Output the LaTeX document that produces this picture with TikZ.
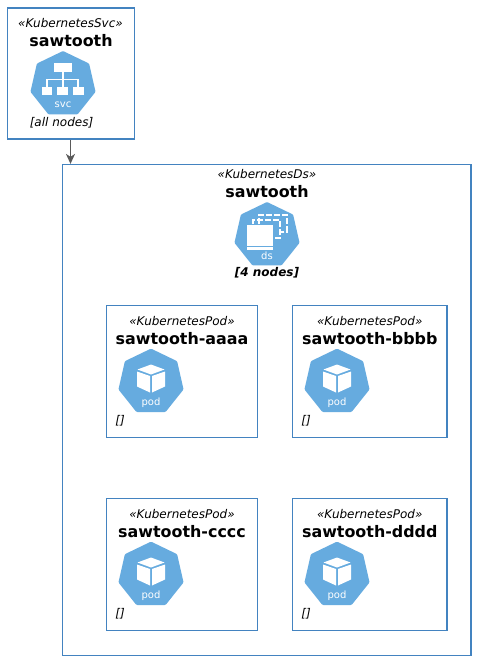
\documentclass[tikz,border=0pt]{standalone}
\usepackage{fontspec}
\setmainfont{DejaVu Sans}
\usepackage{xcolor}
\usetikzlibrary{positioning,shapes.geometric,arrows.meta,calc}
\definecolor{boxblue}{HTML}{4383C0}
\definecolor{iconblue}{HTML}{66ABDF}
\definecolor{arrowgrey}{HTML}{5A5A5A}

\tikzset{
  svcglyph/.pic={
    \fill[white] (-9,-21.5) rectangle (9,-12.5);
    \draw[white,line width=1.5pt] (0,-12.5) -- (0,-5) (-16,3) -- (-16,-5) -- (15,-5) -- (15,3) (0,-5) -- (0,3);
    \fill[white] (-21,3) rectangle (-11,10.5);
    \fill[white] (-6,3) rectangle (5,10.5);
    \fill[white] (10,3) rectangle (20.5,10.5);
  },
  dsglyph/.pic={
    \draw[white,line width=1.8pt,dash pattern=on 6pt off 2pt] (-7.7,-11) -- (-7.7,-20.5) -- (19.7,-20.5) -- (19.7,-3.7) -- (13.5,-3.7);
    \draw[white,line width=1.8pt,dash pattern=on 6pt off 2pt] (-13.7,-11.5) -- (-13.7,-15.5) -- (13,-15.5) -- (13,2.6) -- (7.5,2.6);
    \fill[white] (-20,-10.4) rectangle (6,10.6);
    \fill[white] (-20,11.8) rectangle (6,14.4);
  },
  podglyph/.pic={
    \fill[white] (0,-17.5) -- (13.5,-12.5) -- (0,-7.5) -- (-13.5,-12.5) -- cycle;
    \fill[white] (-14,-10.5) -- (-1,-6) -- (-1,10.5) -- (-14,4.5) -- cycle;
    \fill[white] (14,-10.5) -- (1,-6) -- (1,10.5) -- (14,4.5) -- cycle;
  },
}

\begin{document}
\begin{tikzpicture}[
  x=1pt, y=-1pt, >={Stealth[inset=3pt,length=10pt,width=9pt]},
  every node/.style={inner sep=0pt},
  card/.style={rectangle, draw=boxblue, line width=1.2pt, fill=white},
  kicon/.style={regular polygon, regular polygon sides=7, fill=iconblue, minimum size=66.8pt, rounded corners=1pt},
  stereo/.style={font=\fontsize{12}{14}\selectfont\itshape},
  title/.style={font=\fontsize{15.9}{18}\selectfont\bfseries},
  note/.style={font=\fontsize{12}{14}\selectfont\itshape},
  icontxt/.style={text=white, font=\fontsize{10}{12}\selectfont},
]
\useasboundingbox (0,0) rectangle (476,660);

% service box
\node[card, minimum width=127pt, minimum height=131pt] (svc) at (71,73.5) {};
\node[stereo] (svcst) at (70.5,23.5) {«KubernetesSvc»};
\node[title] (svcname) at (71,40.5) {sawtooth};
\node[kicon] (svcicon) at (63,84.4) {};
\pic at (svcicon.center) {svcglyph};
\node[icontxt] (svctxt) at (63,105) {svc};
\node[note] (svcnote) at (61.5,122.5) {[all nodes]};

% daemonset box
\node[card, minimum width=408.5pt, minimum height=491pt] (ds) at (266.75,410) {};
\node[stereo] (dsst) at (267,174) {«KubernetesDs»};
\node[title] (dsname) at (267,191.5) {sawtooth};
\node[kicon] (dsicon) at (267,235.4) {};
\pic at (dsicon.center) {dsglyph};
\node[icontxt] (dstxt) at (267,255.5) {ds};
\node[note, font=\fontsize{12}{14}\selectfont\bfseries\itshape] (dsnote) at (267,273) {[4 nodes]};

% pods
\node[card, minimum width=151pt, minimum height=132pt] (poda) at (182,371.5) {};
\node[stereo] (podast) at (182,321.5) {«KubernetesPod»};
\node[title] (podaname) at (182,338.5) {sawtooth-aaaa};
\node[kicon] (podaicon) at (151,382) {};
\pic at (podaicon.center) {podglyph};
\node[icontxt] (podatxt) at (151,402.5) {pod};
\node[note] (podanote) at (120,420.5) {[]};

\node[card, minimum width=154.5pt, minimum height=132pt] (podb) at (369.75,371.5) {};
\node[stereo] (podbst) at (369.75,321.5) {«KubernetesPod»};
\node[title] (podbname) at (369.75,338.5) {sawtooth-bbbb};
\node[kicon] (podbicon) at (337,382) {};
\pic at (podbicon.center) {podglyph};
\node[icontxt] (podbtxt) at (337,402.5) {pod};
\node[note] (podbnote) at (306,420.5) {[]};

\node[card, minimum width=151pt, minimum height=132pt] (podc) at (182,564.5) {};
\node[stereo] (podcst) at (182,514.5) {«KubernetesPod»};
\node[title] (podcname) at (182,531.5) {sawtooth-cccc};
\node[kicon] (podcicon) at (151,575) {};
\pic at (podcicon.center) {podglyph};
\node[icontxt] (podctxt) at (151,595.5) {pod};
\node[note] (podcnote) at (120,613.5) {[]};

\node[card, minimum width=154.5pt, minimum height=132pt] (podd) at (369.75,564.5) {};
\node[stereo] (poddst) at (369.75,514.5) {«KubernetesPod»};
\node[title] (poddname) at (369.75,531.5) {sawtooth-dddd};
\node[kicon] (poddicon) at (337,575) {};
\pic at (poddicon.center) {podglyph};
\node[icontxt] (poddtxt) at (337,595.5) {pod};
\node[note] (poddnote) at (306,613.5) {[]};

\draw[->,arrowgrey,line width=1pt] ([xshift=-0.5pt]svc.south) -- ([xshift=-0.5pt]svc.south |- ds.north);
\end{tikzpicture}
\end{document}
